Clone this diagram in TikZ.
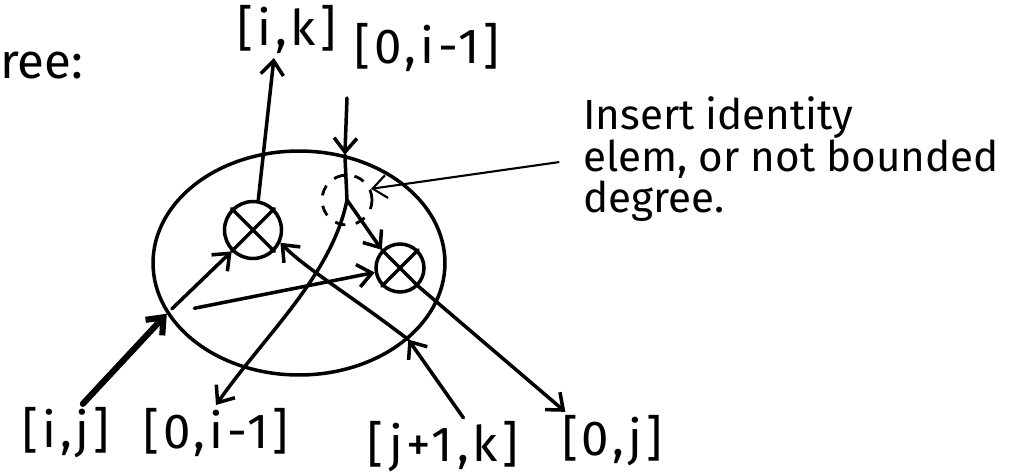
\documentclass[tikz,border=0pt]{standalone}
\usepackage{fontspec}
\setmainfont{Fira Sans}
\newfontfamily\handfont[LetterSpace=8]{Fira Sans}
\usepackage{tikz}
\usetikzlibrary{positioning,
                arrows.meta,
                shapes.geometric}

\begin{document}
\begin{tikzpicture}[x=0.02cm,y=-0.02cm]

\tikzset{
hand/.style={
line width=2pt,
line cap=round
},
arr/.style={
-{Straight Barb[length=8pt,width=13pt]}
},
interval/.style={
inner sep=2pt,
font=\handfont\fontsize{28}{30}\selectfont
},
prod/.style={
draw,
circle,
line width=2pt,
minimum size=1.14cm
},
blob/.style={
draw,
ellipse,
line width=2pt,
inner sep=0pt,
minimum width=5.84cm,
minimum height=4.48cm
},
identity/.style={
draw,
circle,
dashed,
dash pattern=on 6pt off 6pt,
line width=1.6pt,
minimum size=1.0cm
},
remark/.style={
align=left,
inner sep=0pt,
font=\fontsize{24}{23}\selectfont
}
}

\useasboundingbox (0,0) rectangle (1015,474);

%--------------------------------------------------
% LABELS
%--------------------------------------------------

\node[anchor=base west,inner sep=0pt,font=\fontsize{28}{30}\selectfont] (title) at (0,78) {ree:};

\node[interval] (ik) at (287,30) {[i,k]};
\node[interval] (topin) at (427,48) {[0,i-1]};

\node[interval] (ij) at (66,433) {[i,j]};
\node[interval] (botout) at (216,433) {[0,i-1]};
\node[interval] (jk) at (443,447) {[j+1,k]};
\node[interval] (oj) at (612,441) {[0,j]};

\node[remark,anchor=north west] (note) at (583,96)
  {Insert identity\\elem, or not bounded\\degree.};

%--------------------------------------------------
% TREE
%--------------------------------------------------

\node[blob] (tree) at (299,263) {};

\node[prod] (left) at (253,230) {};
\draw[hand] (left.135) -- (left.-45) (left.45) -- (left.-135);

\node[prod,minimum size=0.96cm] (right) at (400,268) {};
\draw[hand] (right.135) -- (right.-45) (right.45) -- (right.-135);

\node[identity] (split) at (347,200) {};

\coordinate (topent) at (tree.67);
\coordinate (ijent) at (tree.201);
\coordinate (jkent) at (tree.-35);
\coordinate (topstart) at (347,98);

%--------------------------------------------------
% CONNECTORS
%--------------------------------------------------

\draw[hand,arr] (left.80) -- (ik.245);

\draw[hand,arr] (topstart) -- (topent);
\draw[hand] (topent) -- (split.center);
\draw[hand,arr] (split.center) .. controls (332,275) and (265,335) .. (botout.north);
\draw[hand,arr] (split.center) -- (right.135);

\draw[hand,arr,line width=3.5pt] (ij.60) -- (ijent);
\draw[hand,arr,shorten <=4pt] (ijent) -- (left.-135);
\draw[hand,arr,shorten <=16pt] (ijent) -- (right.190);

\draw[hand,arr] (jk.55) -- (jkent);
\draw[hand,arr] (jkent) .. controls (350,295) and (305,268) .. (left.-25);

\draw[hand,arr] (right.-45) -- (oj.148);

\draw[hand,line width=1.2pt,arr,shorten <=14pt] (note.west) -- (split.25);

\end{tikzpicture}
\end{document}
